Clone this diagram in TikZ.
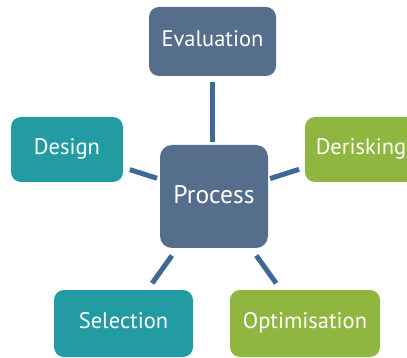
\documentclass[tikz,border=0pt]{standalone}
\usepackage{fontspec}
\setmainfont{PT Sans}
\definecolor{slate}{HTML}{546E8C}
\definecolor{tealc}{HTML}{229BA2}
\definecolor{greenc}{HTML}{8FB63F}
\definecolor{linkc}{HTML}{3E6898}
\tikzset{
  box/.style={rounded corners=10pt, inner sep=0pt, text=white,
    font=\fontsize{22.5}{22.5}\selectfont, text height=13.5pt, text depth=3pt},
  link/.style={draw=linkc, line width=5pt},
}
\begin{document}
\begin{tikzpicture}[x=1pt,y=-1pt]
\clip (0,0) rectangle (407,358);
\fill[white] (0,0) rectangle (407,358);
\node[box, fill=slate, minimum width=127pt, minimum height=69pt] (eval) at (212.5,41.5) {Evaluation};
\node[box, fill=tealc, minimum width=112pt, minimum height=65pt] (design) at (67,149.5) {Design};
\node[box, fill=greenc, minimum width=112pt, minimum height=65pt] (derisk) at (361,149.5) {Derisking};
\node[box, fill=slate, rounded corners=12pt, minimum width=108pt, minimum height=103pt,
  font=\fontsize{25.5}{25.5}\selectfont, text height=16.5pt, text depth=2.6pt] (proc) at (214,196.5) {Process};
\node[box, fill=tealc, minimum width=139pt, minimum height=67pt] (sel) at (123.5,323.5) {Selection};
\node[box, fill=greenc, minimum width=150pt, minimum height=67pt] (opt) at (305,323.5) {Optimisation};
\draw[link, shorten <=6pt, shorten >=3pt] (eval.south) -- (eval.south |- proc.north);
\draw[link, shorten <=7pt, shorten >=3pt] (design) -- (proc);
\draw[link, shorten <=6pt, shorten >=2pt] (derisk) -- (proc);
\draw[link, shorten <=9pt, shorten >=8pt] (proc) -- (sel);
\draw[link, shorten <=9pt, shorten >=8pt] (proc) -- (opt);
\end{tikzpicture}
\end{document}
